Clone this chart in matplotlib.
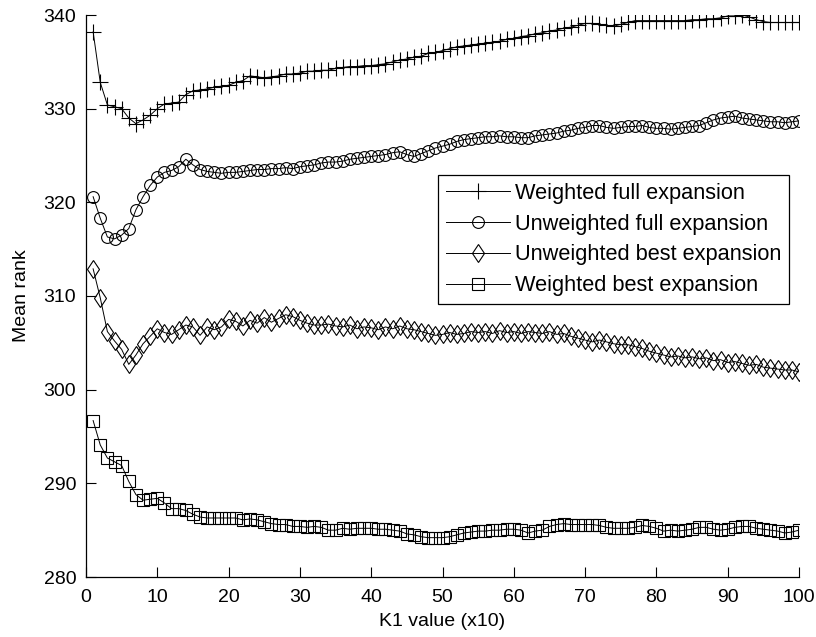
import matplotlib
matplotlib.use("Agg")
import matplotlib.pyplot as plt
import numpy as np

plt.rcParams['font.family'] = ['Liberation Sans', 'DejaVu Sans']

k1 = list(range(1, 101))

weighted_full = [
    338.2, 332.8, 330.4, 330.2, 330.0, 329.0, 328.4, 328.8, 329.3, 330.0,
    330.5, 330.6, 330.7, 331.5, 331.9, 332.0, 332.1, 332.3, 332.4, 332.5,
    332.8, 333.0, 333.5, 333.4, 333.3, 333.4, 333.5, 333.7, 333.7, 333.8,
    334.0, 334.0, 334.1, 334.1, 334.3, 334.4, 334.5, 334.5, 334.6, 334.6,
    334.7, 334.8, 335.0, 335.2, 335.3, 335.5, 335.6, 335.9, 336.0, 336.2,
    336.4, 336.6, 336.7, 336.8, 336.9, 337.0, 337.1, 337.2, 337.4, 337.5,
    337.7, 337.8, 338.0, 338.1, 338.3, 338.4, 338.6, 338.7, 338.9, 339.1,
    339.1, 339.0, 338.9, 338.8, 339.0, 339.2, 339.4, 339.4, 339.4, 339.4,
    339.4, 339.4, 339.4, 339.4, 339.5, 339.5, 339.6, 339.6, 339.7, 339.9,
    339.9, 340.0, 339.8, 339.5, 339.3, 339.2, 339.2, 339.2, 339.2, 339.2,
]

unweighted_full = [
    320.6, 318.3, 316.3, 316.1, 316.5, 317.2, 319.2, 320.6, 321.8, 322.7,
    323.2, 323.4, 323.8, 324.6, 324.0, 323.5, 323.3, 323.2, 323.1, 323.2,
    323.2, 323.3, 323.4, 323.5, 323.5, 323.6, 323.6, 323.7, 323.6, 323.8,
    323.9, 324.0, 324.2, 324.3, 324.3, 324.4, 324.6, 324.7, 324.8, 324.9,
    325.0, 325.1, 325.3, 325.4, 325.1, 324.9, 325.2, 325.5, 325.8, 326.0,
    326.2, 326.5, 326.7, 326.8, 326.9, 327.0, 327.0, 327.1, 327.0, 327.0,
    326.9, 326.9, 327.1, 327.2, 327.3, 327.4, 327.6, 327.7, 327.9, 328.0,
    328.2, 328.2, 328.0, 327.9, 328.0, 328.1, 328.1, 328.2, 328.0, 327.9,
    327.9, 327.8, 327.9, 328.0, 328.1, 328.2, 328.5, 328.8, 329.0, 329.1,
    329.2, 329.0, 328.9, 328.8, 328.7, 328.6, 328.6, 328.5, 328.6, 328.7,
]

unweighted_best = [
    312.9, 309.8, 306.2, 305.2, 304.3, 302.7, 303.7, 304.9, 305.7, 306.5,
    306.1, 305.9, 306.4, 306.9, 306.7, 305.8, 306.7, 306.4, 306.7, 307.5,
    307.3, 306.8, 307.4, 307.1, 307.7, 307.2, 307.6, 308.0, 307.8, 307.4,
    307.1, 306.9, 306.9, 307.0, 306.8, 306.7, 306.9, 306.5, 306.7, 306.6,
    306.4, 306.7, 306.5, 306.8, 306.5, 306.4, 306.2, 306.0, 305.8, 305.9,
    306.1, 305.9, 306.0, 306.2, 306.1, 306.2, 306.0, 306.3, 306.1, 306.2,
    306.0, 306.2, 306.1, 306.0, 306.2, 305.9, 306.0, 305.7, 305.5, 305.3,
    305.1, 305.3, 305.1, 304.9, 304.8, 304.8, 304.6, 304.4, 304.1, 303.9,
    303.7, 303.5, 303.6, 303.4, 303.5, 303.3, 303.4, 303.1, 303.2, 302.9,
    303.0, 302.8, 302.6, 302.7, 302.4, 302.3, 302.2, 302.1, 302.1, 301.9,
]

weighted_best = [
    296.7, 294.1, 292.7, 292.3, 291.9, 290.2, 288.8, 288.2, 288.3, 288.4,
    287.9, 287.3, 287.3, 287.1, 286.7, 286.4, 286.3, 286.3, 286.3, 286.3,
    286.3, 286.1, 286.2, 286.1, 285.9, 285.7, 285.6, 285.6, 285.4, 285.4,
    285.3, 285.4, 285.3, 285.0, 285.0, 285.2, 285.1, 285.2, 285.2, 285.2,
    285.1, 285.1, 285.0, 284.9, 284.6, 284.5, 284.3, 284.2, 284.2, 284.2,
    284.3, 284.5, 284.7, 284.8, 284.9, 284.9, 285.0, 285.0, 285.1, 285.1,
    285.0, 284.7, 284.9, 285.0, 285.4, 285.6, 285.7, 285.6, 285.6, 285.6,
    285.6, 285.5, 285.3, 285.2, 285.2, 285.2, 285.3, 285.5, 285.4, 285.2,
    284.9, 285.0, 284.9, 285.0, 285.1, 285.3, 285.3, 285.1, 285.0, 285.1,
    285.3, 285.4, 285.4, 285.2, 285.1, 285.0, 284.9, 284.7, 284.8, 285.0,
]

series_labels = [
    "Weighted full expansion",
    "Unweighted full expansion",
    "Unweighted best expansion",
    "Weighted best expansion",
]

x_ticks = list(range(0, 101, 10))
y_ticks = list(range(280, 341, 10))

fig = plt.figure(figsize=(8.16, 6.37), dpi=100)
ax = fig.add_axes([86 / 816, 1 - 577 / 637, 713 / 816, 562 / 637])

styles = [
    dict(marker='+', markersize=11),
    dict(marker='o', markersize=8.5),
    dict(marker='d', markersize=9.5),
    dict(marker='s', markersize=8.5),
]
for ys, lab, st in zip([weighted_full, unweighted_full, unweighted_best, weighted_best],
                       series_labels, styles):
    ax.plot(k1, ys, color='black', linewidth=0.7, markerfacecolor='none',
            markeredgecolor='black', markeredgewidth=0.8, label=lab, **st)

ax.set_xlim(0, 100)
ax.set_ylim(280, 340)
ax.set_xticks(x_ticks)
ax.set_yticks(y_ticks)
ax.tick_params(direction='in', length=7, width=0.8, labelsize=14)
ax.tick_params(axis='x', pad=9)
ax.tick_params(axis='y', pad=7)
for side in ('top', 'right'):
    ax.spines[side].set_visible(False)
for side in ('left', 'bottom'):
    ax.spines[side].set_linewidth(0.9)

ax.set_xlabel("K1 value (x10)", fontsize=14, labelpad=5)
ax.set_ylabel("Mean rank", fontsize=14, labelpad=10)

leg = ax.legend(loc='upper left', bbox_to_anchor=(0.494, 0.715), fontsize=15.7,
                frameon=True, fancybox=False, edgecolor='black', framealpha=1,
                borderpad=0.35, labelspacing=0.45, handlelength=2.95,
                handletextpad=0.2, borderaxespad=0)
leg.get_frame().set_linewidth(0.9)

fig.savefig("out.png", dpi=100, facecolor='white')
